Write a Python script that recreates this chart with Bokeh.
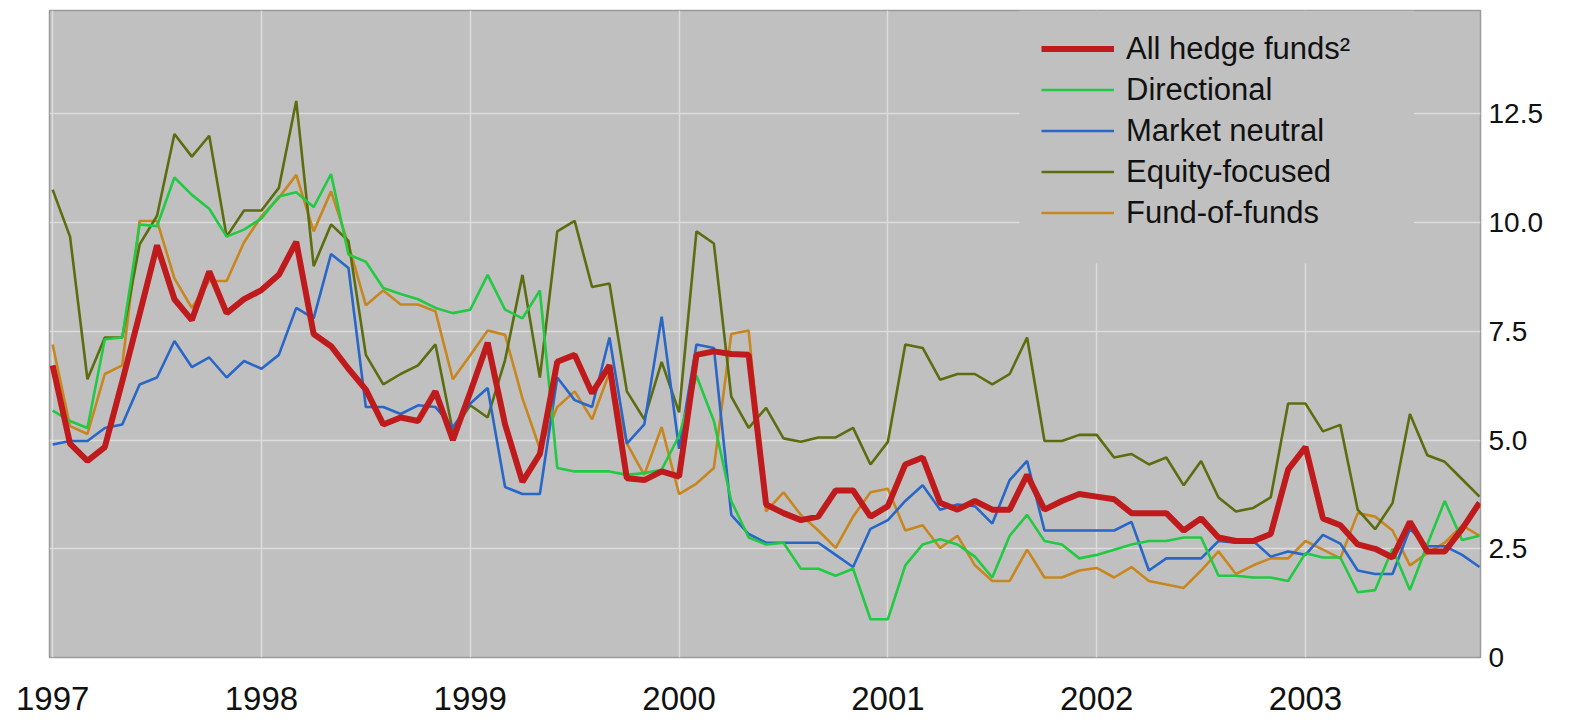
from bokeh.plotting import figure
from bokeh.models import Range1d, FixedTicker, Legend, LegendItem, NumeralTickFormatter, BoxAnnotation
from bokeh.embed import file_html
from bokeh.resources import INLINE

# ---- data (monthly, Jan 1997 - Nov 2003) ----
start_year = 1997
year_ticks = [1997, 1998, 1999, 2000, 2001, 2002, 2003]
value_ticks = [0, 2.5, 5.0, 7.5, 10.0, 12.5]

all_hedge_funds = [
    6.72, 4.92, 4.52, 4.84, 6.35, 7.9, 9.48, 8.24, 7.76, 8.88, 7.92, 8.24,
    8.45, 8.8, 9.56, 7.44, 7.16, 6.64, 6.16, 5.36, 5.52, 5.44, 6.12, 5.0,
    6.1, 7.24, 5.36, 4.04, 4.68, 6.8, 6.96, 6.08, 6.72, 4.12, 4.08, 4.28,
    4.16, 6.96, 7.04, 6.98, 6.96, 3.52, 3.32, 3.16, 3.24, 3.84, 3.84, 3.24,
    3.48, 4.44, 4.6, 3.56, 3.4, 3.6, 3.4, 3.4, 4.2, 3.4, 3.6, 3.76,
    3.7, 3.64, 3.32, 3.32, 3.32, 2.92, 3.2, 2.76, 2.68, 2.68, 2.84, 4.32,
    4.84, 3.2, 3.04, 2.6, 2.5, 2.3, 3.12, 2.44, 2.44, 2.96, 3.56,
]
directional = [
    5.68, 5.44, 5.28, 7.32, 7.36, 9.96, 9.92, 11.04, 10.64, 10.32, 9.68, 9.84,
    10.1, 10.6, 10.7, 10.36, 11.12, 9.27, 9.1, 8.5, 8.36, 8.24, 8.04, 7.92,
    8.0, 8.8, 8.0, 7.8, 8.44, 4.36, 4.28, 4.28, 4.28, 4.2, 4.24, 4.32,
    5.1, 6.48, 5.44, 3.6, 2.76, 2.6, 2.64, 2.04, 2.04, 1.88, 2.04, 0.88,
    0.88, 2.12, 2.6, 2.72, 2.6, 2.32, 1.84, 2.8, 3.28, 2.68, 2.6, 2.28,
    2.36, 2.48, 2.6, 2.68, 2.68, 2.76, 2.76, 1.88, 1.88, 1.84, 1.84, 1.76,
    2.4, 2.3, 2.3, 1.5, 1.55, 2.5, 1.55, 2.6, 3.6, 2.7, 2.8,
]
market_neutral = [
    4.9, 4.98, 4.98, 5.28, 5.36, 6.28, 6.44, 7.28, 6.68, 6.9, 6.44, 6.82,
    6.64, 6.96, 8.04, 7.8, 9.28, 8.96, 5.76, 5.76, 5.6, 5.8, 5.76, 5.3,
    5.84, 6.2, 3.92, 3.76, 3.76, 6.44, 5.92, 5.76, 7.36, 4.92, 5.36, 7.84,
    4.8, 7.2, 7.12, 3.28, 2.84, 2.64, 2.64, 2.64, 2.64, 2.36, 2.08, 2.96,
    3.16, 3.6, 3.96, 3.4, 3.52, 3.48, 3.08, 4.08, 4.52, 2.92, 2.92, 2.92,
    2.92, 2.92, 3.12, 2.0, 2.28, 2.28, 2.28, 2.68, 2.64, 2.68, 2.32, 2.44,
    2.36, 2.82, 2.62, 2.0, 1.92, 1.92, 2.96, 2.56, 2.56, 2.36, 2.08,
]
equity_focused = [
    10.76, 9.68, 6.4, 7.36, 7.36, 9.5, 10.16, 12.04, 11.52, 12.0, 9.68, 10.28,
    10.28, 10.8, 12.8, 9.0, 9.96, 9.58, 6.96, 6.28, 6.52, 6.72, 7.2, 5.2,
    5.8, 5.52, 6.84, 8.8, 6.44, 9.8, 10.04, 8.52, 8.6, 6.12, 5.48, 6.8,
    5.64, 9.8, 9.52, 6.0, 5.28, 5.74, 5.04, 4.96, 5.06, 5.06, 5.28, 4.44,
    4.96, 7.2, 7.12, 6.39, 6.52, 6.52, 6.28, 6.52, 7.36, 4.98, 4.98, 5.12,
    5.12, 4.6, 4.68, 4.44, 4.6, 3.96, 4.52, 3.68, 3.36, 3.44, 3.68, 5.84,
    5.84, 5.2, 5.35, 3.4, 2.95, 3.55, 5.6, 4.65, 4.5, 4.1, 3.7,
]
fund_of_funds = [
    7.2, 5.32, 5.14, 6.52, 6.72, 10.04, 10.04, 8.72, 8.04, 8.66, 8.66, 9.55,
    10.15, 10.57, 11.1, 9.8, 10.72, 9.5, 8.1, 8.44, 8.12, 8.12, 7.96, 6.4,
    6.95, 7.52, 7.42, 5.96, 4.8, 5.76, 6.12, 5.48, 6.55, 4.92, 4.2, 5.3,
    3.76, 4.0, 4.36, 7.44, 7.52, 3.36, 3.8, 3.28, 2.92, 2.52, 3.24, 3.8,
    3.88, 2.92, 3.04, 2.52, 2.8, 2.12, 1.76, 1.76, 2.48, 1.84, 1.84, 2.0,
    2.06, 1.84, 2.08, 1.76, 1.68, 1.6, 2.0, 2.44, 1.92, 2.12, 2.28, 2.28,
    2.68, 2.48, 2.28, 3.32, 3.24, 2.92, 2.12, 2.4, 2.64, 3.04, 2.8,
]
series_labels = ["All hedge funds\u00b2", "Directional", "Market neutral",
                 "Equity-focused", "Fund-of-funds"]

x = [start_year + i / 12 for i in range(len(all_hedge_funds))]

FONT = "Liberation Sans"
BG = "#c0c0c0"

p = figure(width=1575, height=722, output_backend="svg", toolbar_location=None,
           x_range=Range1d(1996.985, 2003.838), y_range=Range1d(0, 14.88),
           y_axis_location="right",
           min_border_left=49, min_border_top=10, min_border_right=95, min_border_bottom=65)

p.background_fill_color = BG
p.border_fill_color = "white"
p.outline_line_color = "#9a9a9a"
p.outline_line_width = 1.5

# axes
p.xaxis.ticker = FixedTicker(ticks=year_ticks)
p.yaxis.ticker = FixedTicker(ticks=value_ticks)
p.yaxis.formatter = NumeralTickFormatter(format="0.0")
p.yaxis.major_label_overrides = {0: "0"}
for ax in (p.xaxis[0], p.yaxis[0]):
    ax.axis_line_color = None
    ax.major_tick_line_color = None
    ax.minor_tick_line_color = None
    ax.major_label_text_font = FONT
    ax.major_label_text_color = "#111111"
p.xaxis.major_label_text_font_size = "33px"
p.yaxis.major_label_text_font_size = "28px"
p.xaxis.major_label_standoff = 23
p.yaxis.major_label_standoff = 2

# grid
p.xgrid.ticker = FixedTicker(ticks=year_ticks)
p.ygrid.ticker = FixedTicker(ticks=value_ticks)
for g in (p.xgrid[0], p.ygrid[0]):
    g.grid_line_color = "#dcdcdc"
    g.grid_line_width = 1.5

# plain panel behind the legend that hides the grid there
p.add_layout(BoxAnnotation(left=2001.63, right=2003.52, bottom=9.06, top=14.88,
                           fill_color=BG, fill_alpha=1.0, line_color=None,
                           level="underlay"))

# lines (red drawn last, on top)
r_fof = p.line(x, fund_of_funds, line_color="#c8861e", line_width=2.6)
r_eq = p.line(x, equity_focused, line_color="#5c6d10", line_width=2.6)
r_mn = p.line(x, market_neutral, line_color="#2866c8", line_width=2.6)
r_dir = p.line(x, directional, line_color="#22c942", line_width=2.6)
r_all = p.line(x, all_hedge_funds, line_color="#bf1a1c", line_width=6)

renderers = [r_all, r_dir, r_mn, r_eq, r_fof]
legend = Legend(items=[LegendItem(label=lab, renderers=[r])
                       for lab, r in zip(series_labels, renderers)],
                location=(992, 424))
legend.background_fill_color = BG
legend.background_fill_alpha = 1.0
legend.border_line_color = None
legend.label_text_font = FONT
legend.label_text_font_size = "31px"
legend.label_text_color = "#111111"
legend.glyph_width = 73
legend.glyph_height = 41
legend.label_height = 41
legend.spacing = 0
legend.padding = 17
legend.margin = 0
legend.label_standoff = 12
p.add_layout(legend)

open("out.html", "w").write(file_html(p, INLINE))
